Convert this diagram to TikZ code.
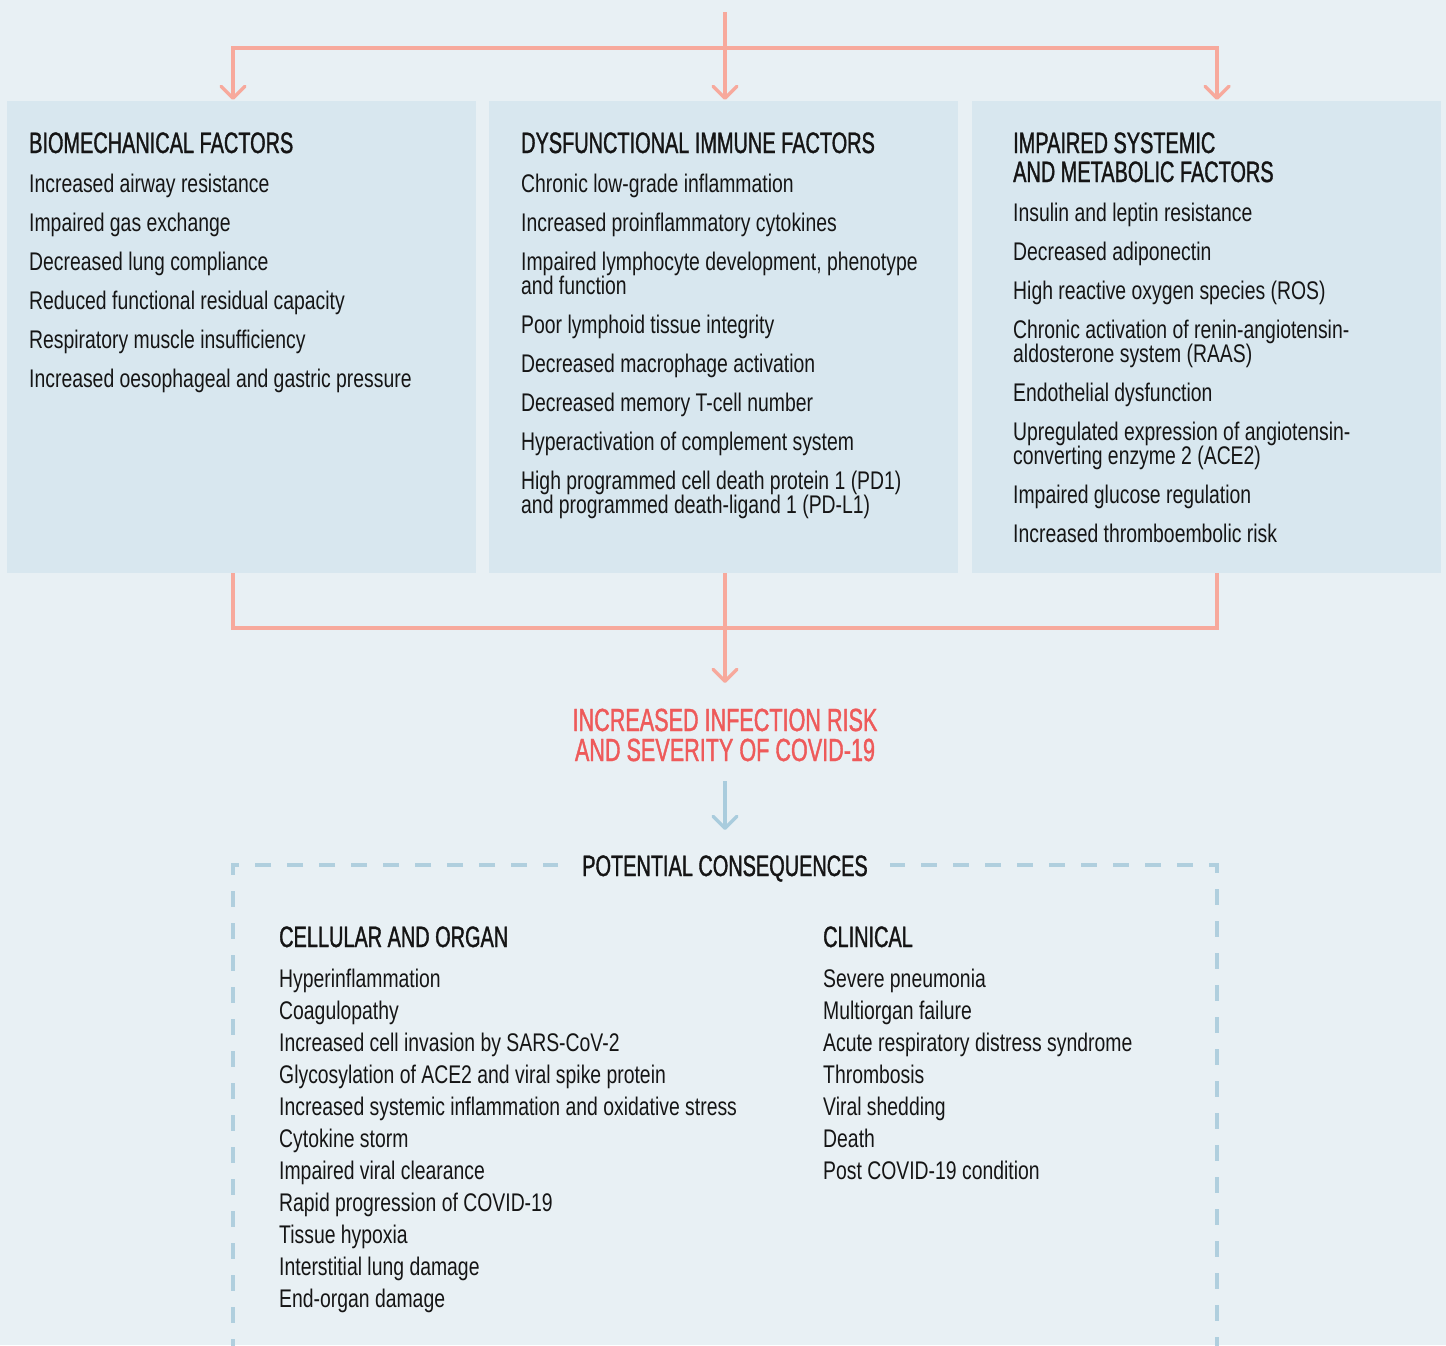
\documentclass[tikz,border=0pt]{standalone}
\usepackage{fontspec}
\setmainfont{Liberation Sans}[FakeStretch=0.76]
\newfontfamily\hfont{Liberation Sans}[FakeStretch=0.675,FakeBold=1.2]
\usetikzlibrary{arrows.meta}
\definecolor{bg}{HTML}{E8F0F4}
\definecolor{boxc}{HTML}{D8E7EF}
\definecolor{sal}{HTML}{F7A99C}
\definecolor{redt}{HTML}{EE5A5A}
\definecolor{bluel}{HTML}{A9CCDD}
\definecolor{dashc}{HTML}{B0CFDE}
\definecolor{ink}{HTML}{151515}
\begin{document}
\begin{tikzpicture}[x=1pt,y=-1pt,
  panel/.style={fill=boxc,draw=none,minimum width=469pt,minimum height=472pt,inner sep=0pt},
  it/.style={anchor=base west,inner sep=0pt,text=ink,font=\fontsize{25.5}{24}\selectfont},
  hd/.style={anchor=base west,inner sep=0pt,text=ink,font=\hfont\fontsize{29.5}{29}\selectfont},
  rt/.style={anchor=base,inner sep=0pt,text=redt,font=\hfont\fontsize{32}{32}\selectfont},
  conn/.style={draw=sal,line width=3.5pt},
  tipd/.style={-{Straight Barb[length=12pt,width=24pt,line cap=round,line join=round]}},
  dashln/.style={draw=dashc,line width=3.5pt,dash pattern=on 16pt off 16pt,dash phase=1pt}
]
\fill[bg] (0,0) rectangle (1446,1345);
\useasboundingbox (0,0) rectangle (1446,1345);

% panels
\node[panel] (B1) at (241.5,337) {};
\node[panel] (B2) at (723.5,337) {};
\node[panel] (B3) at (1206.5,337) {};

% top connectors
\coordinate (top) at (725,12);
\coordinate (jC) at (725,48);
\coordinate (t1) at (233,100);
\coordinate (t2) at (725,100);
\coordinate (t3) at (1217,100);
\draw[conn,tipd] (jC) -| (t1);
\draw[conn,tipd] (jC) -| (t3);
\draw[conn,tipd] (top) -- (t2);

% bottom connectors
\coordinate (s1) at (233,573);
\coordinate (s2) at (725,573);
\coordinate (s3) at (1217,573);
\coordinate (jB) at (725,628);
\coordinate (rtip) at (725,683);
\draw[conn] (s1) |- (jB);
\draw[conn] (s3) |- (jB);
\draw[conn,tipd] (s2) -- (rtip);

% panel 1
\node[hd] (h1) at (29,153) {BIOMECHANICAL FACTORS};
\node[it] (a1) at (29,192) {Increased airway resistance};
\node[it] (a2) at (29,231) {Impaired gas exchange};
\node[it] (a3) at (29,270) {Decreased lung compliance};
\node[it] (a4) at (29,309) {Reduced functional residual capacity};
\node[it] (a5) at (29,348) {Respiratory muscle insufficiency};
\node[it] (a6) at (29,387) {Increased oesophageal and gastric pressure};

% panel 2
\node[hd] (h2) at (521,153) {DYSFUNCTIONAL IMMUNE FACTORS};
\node[it] (b1) at (521,192) {Chronic low-grade inflammation};
\node[it] (b2) at (521,231) {Increased proinflammatory cytokines};
\node[it] (b3a) at (521,270) {Impaired lymphocyte development, phenotype};
\node[it] (b3b) at (521,294) {and function};
\node[it] (b4) at (521,333) {Poor lymphoid tissue integrity};
\node[it] (b5) at (521,372) {Decreased macrophage activation};
\node[it] (b6) at (521,411) {Decreased memory T-cell number};
\node[it] (b7) at (521,450) {Hyperactivation of complement system};
\node[it] (b8a) at (521,489) {High programmed cell death protein 1 (PD1)};
\node[it] (b8b) at (521,513) {and programmed death-ligand 1 (PD-L1)};

% panel 3
\node[hd] (h3a) at (1013,153) {IMPAIRED SYSTEMIC};
\node[hd] (h3b) at (1013,182) {AND METABOLIC FACTORS};
\node[it] (c1) at (1013,221) {Insulin and leptin resistance};
\node[it] (c2) at (1013,260) {Decreased adiponectin};
\node[it] (c3) at (1013,299) {High reactive oxygen species (ROS)};
\node[it] (c4a) at (1013,338) {Chronic activation of renin-angiotensin-};
\node[it] (c4b) at (1013,362) {aldosterone system (RAAS)};
\node[it] (c5) at (1013,401) {Endothelial dysfunction};
\node[it] (c6a) at (1013,440) {Upregulated expression of angiotensin-};
\node[it] (c6b) at (1013,464) {converting enzyme 2 (ACE2)};
\node[it] (c7) at (1013,503) {Impaired glucose regulation};
\node[it] (c8) at (1013,542) {Increased thromboembolic risk};

% red outcome
\node[rt] (r1) at (725,731) {INCREASED INFECTION RISK};
\node[rt] (r2) at (725,761) {AND SEVERITY OF COVID-19};

% blue arrow
\coordinate (bs) at (725,781);
\coordinate (be) at (725,830);
\draw[draw=bluel,line width=3.5pt,tipd] (bs) -- (be);

% dashed frame
\node[hd,anchor=base] (pc) at (725,876) {POTENTIAL CONSEQUENCES};
\coordinate (dl0) at (558,865);
\coordinate (dlc) at (233,865);
\coordinate (dlb) at (233,1350);
\coordinate (dr0) at (890,865);
\coordinate (drc) at (1217,865);
\coordinate (drb) at (1217,1350);
\draw[dashln] (dl0) -- (dlc) -- (dlb);
\draw[dashln] (dr0) -- (drc) -- (drb);

% cellular and organ
\node[hd] (co) at (279,947) {CELLULAR AND ORGAN};
\node[it] (co1) at (279,987) {Hyperinflammation};
\node[it] (co2) at (279,1019) {Coagulopathy};
\node[it] (co3) at (279,1051) {Increased cell invasion by SARS-CoV-2};
\node[it] (co4) at (279,1083) {Glycosylation of ACE2 and viral spike protein};
\node[it] (co5) at (279,1115) {Increased systemic inflammation and oxidative stress};
\node[it] (co6) at (279,1147) {Cytokine storm};
\node[it] (co7) at (279,1179) {Impaired viral clearance};
\node[it] (co8) at (279,1211) {Rapid progression of COVID-19};
\node[it] (co9) at (279,1243) {Tissue hypoxia};
\node[it] (co10) at (279,1275) {Interstitial lung damage};
\node[it] (co11) at (279,1307) {End-organ damage};

% clinical
\node[hd] (cl) at (823,947) {CLINICAL};
\node[it] (cl1) at (823,987) {Severe pneumonia};
\node[it] (cl2) at (823,1019) {Multiorgan failure};
\node[it] (cl3) at (823,1051) {Acute respiratory distress syndrome};
\node[it] (cl4) at (823,1083) {Thrombosis};
\node[it] (cl5) at (823,1115) {Viral shedding};
\node[it] (cl6) at (823,1147) {Death};
\node[it] (cl7) at (823,1179) {Post COVID-19 condition};
\end{tikzpicture}
\end{document}
